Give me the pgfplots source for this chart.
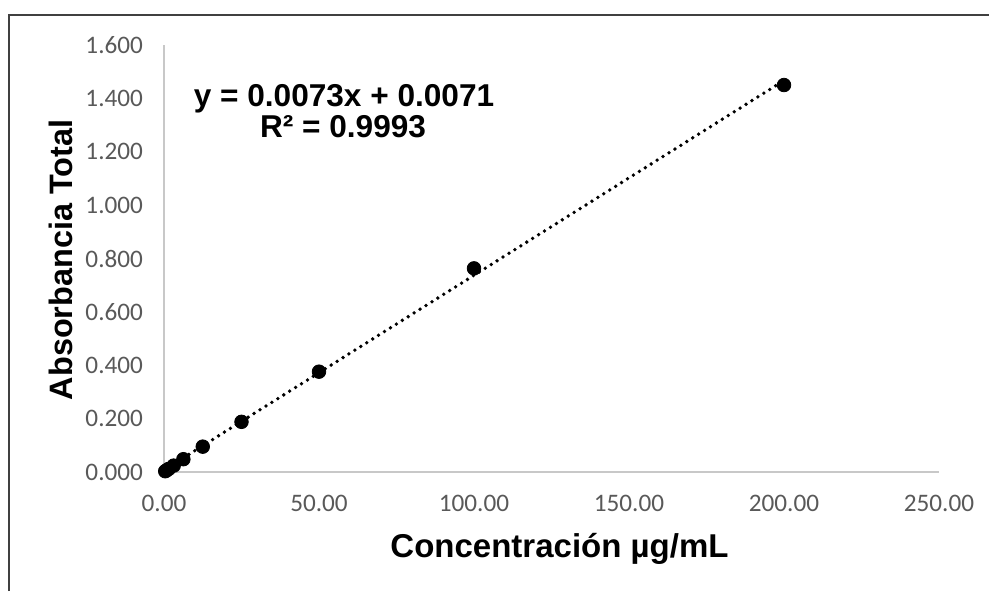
\documentclass[border=0pt]{standalone}
\usepackage{pgfplots}
\pgfplotsset{compat=1.18}
\usepackage{fontspec}
\setmainfont{Liberation Sans}
\newfontfamily\tickfont{Carlito}
\definecolor{ticktext}{HTML}{595959}
\definecolor{axisgray}{HTML}{C8C8C8}
\definecolor{framegray}{HTML}{404040}

\begin{document}
\begin{tikzpicture}[x=1pt,y=1pt]
\useasboundingbox (0,0) rectangle (494.5,295.5);
% outer frame of the chart area
\draw[framegray, line width=0.8pt] (4.5,0) -- (4.5,288) -- (494.5,288);

\begin{axis}[
  at={(82pt,59.5pt)}, anchor=south west,
  scale only axis, width=387.5pt, height=213.5pt,
  xmin=0, xmax=250, ymin=0, ymax=1.6,
  axis x line=bottom, axis y line=left,
  axis line style={draw=axisgray, line width=1pt, -},
  xtick={0,50,100,150,200,250},
  ytick={0,0.2,0.4,0.6,0.8,1.0,1.2,1.4,1.6},
  major tick length=0pt,
  tick style={draw=none},
  /pgf/number format/assume math mode=true,
  xticklabel style={font=\tickfont\fontsize{12.6}{14}\selectfont, text=ticktext, anchor=north, yshift=-8.2pt,
    /pgf/number format/.cd, fixed, fixed zerofill, precision=2},
  yticklabel style={font=\tickfont\fontsize{12.6}{14}\selectfont, text=ticktext, anchor=east, xshift=-7.0pt,
    /pgf/number format/.cd, fixed, fixed zerofill, precision=3},
  clip=false,
]
% linear trendline y = 0.0073x + 0.0071 over the data range
\addplot[black, line width=1.9pt, line cap=round, dash pattern=on 0pt off 3.5pt]
  coordinates {(0.39,0.00995) (200,1.4671)};
% measured absorbances
\addplot[only marks, mark=*, mark size=3.4pt, mark options={fill=black, draw=black}]
  coordinates {
    (0.39,0.003) (0.78,0.006) (1.5625,0.012) (3.125,0.024) (6.25,0.048)
    (12.5,0.095) (25,0.188) (50,0.376) (100,0.763) (200,1.450)
  };
\end{axis}

% axis titles
\node[rotate=90, anchor=base, font=\bfseries\fontsize{16.2}{19}\selectfont] at (36,165.5) {Absorbancia Total};
\node[anchor=base, font=\bfseries\fontsize{16.5}{19}\selectfont] at (279.75,17) {Concentración µg/mL};

% trendline equation
\node[anchor=base, font=\bfseries\fontsize{15.8}{19}\selectfont] at (172,242.5) {y = 0.0073x + 0.0071};
\node[anchor=base, font=\bfseries\fontsize{15.8}{19}\selectfont] at (171.5,227) {R² = 0.9993};
\end{tikzpicture}
\end{document}
